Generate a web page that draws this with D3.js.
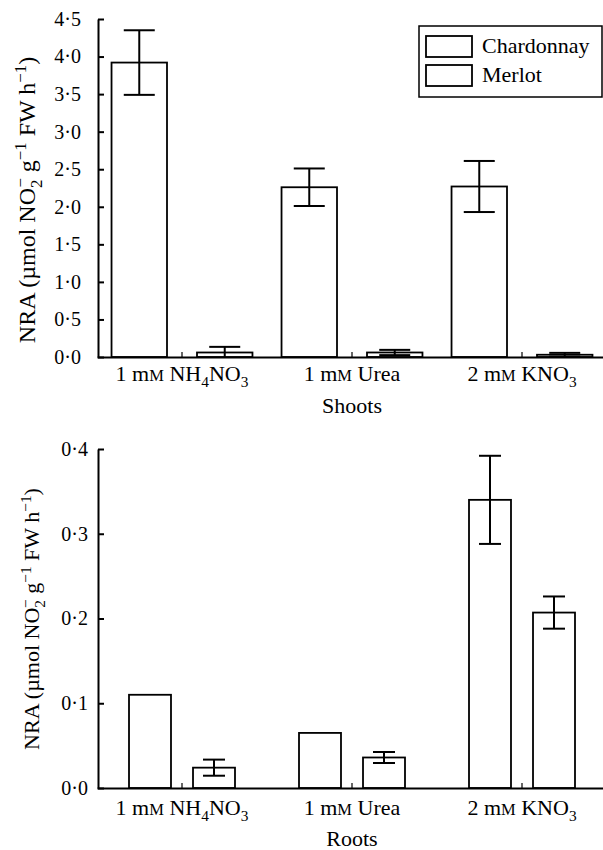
<!DOCTYPE html>
<html>
<head>
<meta charset="utf-8">
<script src="https://cdn.jsdelivr.net/npm/d3@7"></script>
<style>
  body { margin: 0; background: white; }
  svg { display: block; }
  svg text { font-family: 'Liberation Serif', 'DejaVu Serif', serif; }
</style>
</head>
<body>
<div class="content"></div>
<script>
// data
const categories = ['NH4NO3', 'Urea', 'KNO3']
const series = ['Chardonnay', 'Merlot']
const shootsChardonnay = [3.92, 2.26, 2.27]
const shootsChardonnayErr = [0.43, 0.25, 0.34]
const shootsMerlot = [0.06, 0.06, 0.03]
const shootsMerlotErr = [0.075, 0.035, 0.025]
const rootsChardonnay = [0.11, 0.065, 0.34]
const rootsChardonnayErr = [0, 0, 0.052]
const rootsMerlot = [0.024, 0.036, 0.207]
const rootsMerlotErr = [0.0095, 0.0065, 0.019]
const shootsTicks = [0, 0.5, 1, 1.5, 2, 2.5, 3, 3.5, 4, 4.5]
const rootsTicks = [0, 0.1, 0.2, 0.3, 0.4]

// category labels as pieces
const categoryLabels = [
    [{t: '1 m'}, {t: 'M', small: true}, {t: ' NH'}, {t: '4', sub: true}, {t: 'NO'}, {t: '3', sub: true}],
    [{t: '1 m'}, {t: 'M', small: true}, {t: ' Urea'}],
    [{t: '2 m'}, {t: 'M', small: true}, {t: ' KNO'}, {t: '3', sub: true}]
]
const yTitle = [
    {t: 'NRA (µmol NO'}, {t: '2', sub: true}, {t: '−', sup: true, dx: -8},
    {t: ' g'}, {t: '−1', sup: true}, {t: ' FW h'}, {t: '−1', sup: true}, {t: ')'}
]

const width = 603
const height = 850
const fs = 22

const svg = d3.select('div.content')
    .append('svg')
    .attr('width', width)
    .attr('height', height)

function richText(el, parts, size) {
    let shift = 0
    for (let p of parts) {
        let target = p.sub ? 0.28 * size : p.sup ? -0.38 * size : 0
        let ts = el.append('tspan').text(p.t)
        if (target !== shift) ts.attr('dy', target - shift)
        if (p.dx) ts.attr('dx', p.dx)
        if (p.sub || p.sup) ts.attr('font-size', size * 0.7)
        if (p.small) ts.attr('font-size', size * 0.75)
        shift = target
    }
}

function drawPanel(cfg) {
    const g = svg.append('g')
    const x = d3.scaleBand().domain(categories).range([97, 607])
    const xs = d3.scaleBand().domain(series).range([0, x.bandwidth()])
        .paddingInner(cfg.padIn).paddingOuter(cfg.padOut)
    const y = d3.scaleLinear().domain(cfg.domain).range([cfg.y0, cfg.y1])

    const rows = []
    categories.forEach((c, i) => {
        rows.push({cat: c, s: 'Chardonnay', v: cfg.chard[i], e: cfg.chardErr[i]})
        rows.push({cat: c, s: 'Merlot', v: cfg.merlot[i], e: cfg.merlotErr[i]})
    })

    g.selectAll('rect.bar')
        .data(rows)
        .join('rect')
        .attr('class', 'bar')
        .attr('x', d => x(d.cat) + xs(d.s))
        .attr('y', d => y(d.v))
        .attr('width', xs.bandwidth())
        .attr('height', d => y(0) - y(d.v))
        .attr('fill', 'white')
        .attr('stroke', 'black')
        .attr('stroke-width', 1.8)

    // error bars
    const eb = g.selectAll('g.err')
        .data(rows.filter(d => d.e > 0))
        .join('g')
        .attr('class', 'err')
        .attr('transform', d => `translate(${x(d.cat) + xs(d.s) + xs.bandwidth() / 2},0)`)
        .attr('stroke', 'black')
        .attr('stroke-width', 2)
    eb.append('line')
        .attr('y1', d => y(Math.max(0, d.v - d.e)))
        .attr('y2', d => y(d.v + d.e))
    eb.append('line')
        .attr('x1', -cfg.cap / 2).attr('x2', cfg.cap / 2)
        .attr('y1', d => y(d.v + d.e)).attr('y2', d => y(d.v + d.e))
    eb.filter(d => d.v - d.e > 0).append('line')
        .attr('x1', -cfg.cap / 2).attr('x2', cfg.cap / 2)
        .attr('y1', d => y(d.v - d.e)).attr('y2', d => y(d.v - d.e))

    // y axis, ticks pointing inward
    const yAxis = d3.axisLeft(y)
        .tickValues(cfg.ticks)
        .tickSize(-6)
        .tickSizeOuter(0)
        .tickPadding(cfg.tickPad)
        .tickFormat(d => d3.format('.1f')(d).replace('.', '·'))
    const ya = g.append('g')
        .attr('transform', 'translate(98,0)')
        .call(yAxis)
        .attr('font-family', null)
    ya.selectAll('path, line').attr('stroke', 'black').attr('stroke-width', 2)
    ya.selectAll('text').attr('font-size', 20).attr('fill', 'black')

    // x axis with small upward ticks at group centres
    const xAxis = d3.axisBottom(x).tickSize(-5).tickSizeOuter(0).tickFormat('')
    const xa = g.append('g')
        .attr('transform', `translate(0,${y(0)})`)
        .call(xAxis)
    xa.selectAll('path, line').attr('stroke', 'black').attr('stroke-width', 2)
    xa.selectAll('.tick line').attr('stroke-width', 1.2)

    categories.forEach((c, i) => {
        const t = g.append('text')
            .attr('x', x(c) + x.bandwidth() / 2)
            .attr('y', cfg.labelY)
            .attr('text-anchor', 'middle')
            .attr('font-size', fs)
        richText(t, categoryLabels[i], fs)
    })

    g.append('text')
        .attr('x', x(categories[1]) + x.bandwidth() / 2)
        .attr('y', cfg.titleY)
        .attr('text-anchor', 'middle')
        .attr('font-size', fs)
        .text(cfg.title)

    const yt = g.append('text')
        .attr('transform', `translate(${cfg.yTitleX},${cfg.yTitleY}) rotate(-90)`)
        .attr('text-anchor', 'middle')
        .attr('font-size', cfg.yTitleSize)
    richText(yt, yTitle, cfg.yTitleSize)
    return g
}

drawPanel({
    domain: [0, 4.5], y0: 357, y1: 19, ticks: shootsTicks, tickPad: 17,
    chard: shootsChardonnay, chardErr: shootsChardonnayErr,
    merlot: shootsMerlot, merlotErr: shootsMerlotErr,
    padIn: 0.351, padOut: 0.17, cap: 31,
    labelY: 381, titleY: 413, title: 'Shoots',
    yTitleX: 35, yTitleY: 200, yTitleSize: 24
})

drawPanel({
    domain: [0, 0.4], y0: 788, y1: 449, ticks: rootsTicks, tickPad: 10,
    chard: rootsChardonnay, chardErr: rootsChardonnayErr,
    merlot: rootsMerlot, merlotErr: rootsMerlotErr,
    padIn: 0.344, padOut: 0.5, cap: 22,
    labelY: 815, titleY: 846, title: 'Roots',
    yTitleX: 39, yTitleY: 619, yTitleSize: 22
})

// legend on the shoots panel
const legend = svg.append('g')
legend.append('rect')
    .attr('x', 419).attr('y', 26).attr('width', 183).attr('height', 71)
    .attr('fill', 'white').attr('stroke', 'black').attr('stroke-width', 1.5)
series.forEach((s, i) => {
    legend.append('rect')
        .attr('x', 426).attr('y', 36 + i * 29).attr('width', 46).attr('height', 21)
        .attr('fill', 'white').attr('stroke', 'black').attr('stroke-width', 1.8)
    legend.append('text')
        .attr('x', 482).attr('y', 53 + i * 29)
        .attr('font-size', fs)
        .text(s)
})
</script>
</body>
</html>
